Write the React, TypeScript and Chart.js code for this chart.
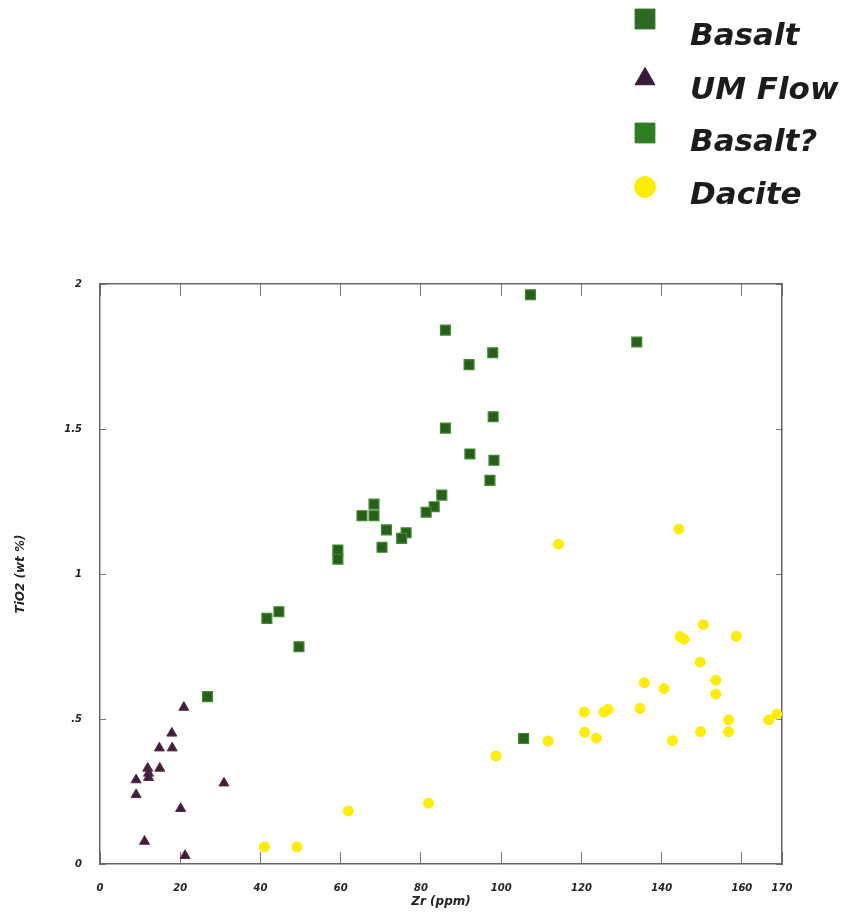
import { useEffect, useRef } from 'react';
import { Chart, registerables } from 'chart.js';
import { drawPoint } from 'chart.js/helpers';

Chart.register(...registerables);

// ---- data ----
const seriesNames = ['Basalt', 'UM Flow', 'Basalt?', 'Dacite'];

const basaltZr = [107.3, 133.8, 86.1, 97.9, 92.0, 98.0, 86.1, 92.2, 98.2, 97.2, 85.2, 83.3, 81.3, 68.3, 68.3, 65.3, 71.4, 76.3, 75.2, 70.3, 59.3, 59.3, 41.6, 44.6, 49.6];
const basaltTiO2 = [1.963, 1.80, 1.841, 1.763, 1.722, 1.542, 1.503, 1.414, 1.392, 1.323, 1.272, 1.232, 1.213, 1.241, 1.201, 1.201, 1.152, 1.142, 1.123, 1.092, 1.083, 1.051, 0.847, 0.870, 0.749];

const umFlowZr = [20.9, 17.9, 14.8, 18.0, 11.9, 14.9, 12.1, 12.1, 9.0, 9.0, 30.9, 20.1, 11.1, 21.2];
const umFlowTiO2 = [0.54, 0.451, 0.40, 0.40, 0.33, 0.33, 0.313, 0.298, 0.29, 0.239, 0.279, 0.191, 0.078, 0.029];

const basaltQZr = [26.8, 105.6];
const basaltQTiO2 = [0.577, 0.433];

const daciteZr = [144.3, 114.3, 150.4, 144.6, 145.6, 158.6, 149.6, 135.7, 140.6, 153.5, 153.5, 120.7, 125.6, 126.7, 134.6, 156.7, 166.7, 168.7, 120.8, 123.7, 149.7, 156.7, 142.7, 111.7, 98.7, 81.9, 61.9, 41.0, 49.1];
const daciteTiO2 = [1.155, 1.103, 0.825, 0.784, 0.775, 0.785, 0.696, 0.625, 0.605, 0.634, 0.586, 0.524, 0.524, 0.533, 0.536, 0.497, 0.497, 0.517, 0.454, 0.434, 0.456, 0.456, 0.425, 0.424, 0.372, 0.210, 0.183, 0.059, 0.059];

const xTickValues = [0, 20, 40, 60, 80, 100, 120, 140, 160, 170];
const xTickLabels = ['0', '20', '40', '60', '80', '100', '120', '140', '160', '170'];
const yTickValues = [0, 0.5, 1, 1.5, 2];
const yTickLabels = ['0', '.5', '1', '1.5', '2'];

const xTitle = 'Zr (ppm)';
const yTitle = 'TiO2 (wt %)';

const FAMILY = "'DejaVu Sans', 'Liberation Sans', sans-serif";

const toPoints = (xs: number[], ys: number[]) => xs.map((x, i) => ({ x, y: ys[i] }));

// legend drawn on the canvas above the plot, from the datasets
const topLegend = {
  id: 'topLegend',
  afterDraw(chart: any, _args: any, opts: any) {
    const ctx = chart.ctx as CanvasRenderingContext2D;
    ctx.save();
    chart.data.datasets.forEach((ds: any, i: number) => {
      ctx.fillStyle = opts.markerFill[i];
      ctx.strokeStyle = opts.markerStroke[i];
      ctx.lineWidth = 1;
      drawPoint(ctx, { pointStyle: ds.pointStyle, radius: opts.radius[i], rotation: 0, borderWidth: 1 } as any, opts.markerX, opts.markerY[i]);
      ctx.fillStyle = opts.textColor;
      ctx.font = `italic bold ${opts.fontSize}px ${FAMILY}`;
      ctx.textAlign = 'left';
      ctx.textBaseline = 'alphabetic';
      ctx.fillText(ds.label, opts.textX, opts.baselineY[i]);
    });
    ctx.restore();
  },
};

export default function App() {
  const ref = useRef<HTMLCanvasElement | null>(null);

  useEffect(() => {
    if (!ref.current) return;
    const tickFont = { family: FAMILY, size: 10, style: 'italic' as const, weight: 'bold' as const };
    const titleFont = { family: FAMILY, size: 12, style: 'italic' as const, weight: 'bold' as const };
    const frame = { display: true, color: '#666', width: 1.5 };

    const chart = new Chart(ref.current, {
      type: 'scatter',
      data: {
        datasets: [
          {
            label: seriesNames[0],
            data: toPoints(basaltZr, basaltTiO2),
            pointStyle: 'rect',
            pointRadius: 7,
            backgroundColor: '#285f1d',
            borderColor: '#3f8a2d',
            borderWidth: 1.2,
            clip: false,
          },
          {
            label: seriesNames[1],
            data: toPoints(umFlowZr, umFlowTiO2),
            pointStyle: 'triangle',
            pointRadius: 5.8,
            backgroundColor: '#3c1f3d',
            borderColor: '#5e2c48',
            borderWidth: 1,
            clip: false,
          },
          {
            label: seriesNames[2],
            data: toPoints(basaltQZr, basaltQTiO2),
            pointStyle: 'rect',
            pointRadius: 7,
            backgroundColor: '#285f1d',
            borderColor: '#3f8a2d',
            borderWidth: 1.2,
            clip: false,
          },
          {
            label: seriesNames[3],
            data: toPoints(daciteZr, daciteTiO2),
            pointStyle: 'circle',
            pointRadius: 5,
            backgroundColor: '#ffee00',
            borderColor: '#ffe800',
            borderWidth: 1,
            clip: false,
          },
        ],
      },
      options: {
        responsive: false,
        animation: false,
        devicePixelRatio: 1,
        layout: { padding: { top: 284, right: 63, bottom: 0, left: 0 } },
        plugins: {
          legend: { display: false },
          tooltip: { enabled: false },
          topLegend: {
            markerX: 645,
            markerY: [19, 79, 133, 187],
            radius: [14, 11.5, 14, 10.5],
            markerFill: ['#2b6a20', '#3a1a3b', '#2e7d23', '#ffee00'],
            markerStroke: ['#2b6a20', '#3a1a3b', '#2e7d23', '#ffee00'],
            textX: 690,
            baselineY: [45, 99, 151, 204],
            fontSize: 31,
            textColor: '#1c1c1c',
          },
        } as any,
        scales: {
          x: {
            type: 'linear',
            position: 'bottom',
            min: 0,
            max: 170,
            afterBuildTicks: (s: any) => { s.ticks = xTickValues.map((v) => ({ value: v })); },
            afterFit: (s: any) => { s.height = 56; },
            ticks: {
              font: tickFont,
              color: '#222',
              padding: 30,
              autoSkip: false,
              maxRotation: 0,
              minRotation: 0,
              callback: (_v: any, i: number) => xTickLabels[i],
            },
            grid: { drawOnChartArea: false, drawTicks: true, tickLength: -12, color: '#777', lineWidth: 1 },
            border: frame,
            title: { display: true, text: xTitle, font: titleFont, color: '#222', padding: { top: 0, bottom: 11 } },
          },
          x2: {
            type: 'linear',
            axis: 'x',
            position: 'top',
            min: 0,
            max: 170,
            afterBuildTicks: (s: any) => { s.ticks = xTickValues.map((v) => ({ value: v })); },
            afterFit: (s: any) => { s.height = 0; },
            ticks: { display: false },
            grid: { drawOnChartArea: false, drawTicks: true, tickLength: -12, color: '#777', lineWidth: 1 },
            border: frame,
          },
          y: {
            type: 'linear',
            position: 'left',
            min: 0,
            max: 2,
            afterBuildTicks: (s: any) => { s.ticks = yTickValues.map((v) => ({ value: v })); },
            afterFit: (s: any) => { s.width = 100; },
            ticks: {
              font: tickFont,
              color: '#222',
              padding: 24,
              callback: (_v: any, i: number) => yTickLabels[i],
            },
            grid: { drawOnChartArea: false, drawTicks: true, tickLength: -6, color: '#777', lineWidth: 1 },
            border: frame,
            title: { display: true, text: yTitle, font: titleFont, color: '#222', padding: { top: 14, bottom: 0 } },
          },
          y2: {
            type: 'linear',
            axis: 'y',
            position: 'right',
            min: 0,
            max: 2,
            afterBuildTicks: (s: any) => { s.ticks = yTickValues.map((v) => ({ value: v })); },
            afterFit: (s: any) => { s.width = 0; },
            ticks: { display: false },
            grid: { drawOnChartArea: false, drawTicks: true, tickLength: -6, color: '#777', lineWidth: 1 },
            border: frame,
          },
        } as any,
      },
      plugins: [topLegend],
    });

    return () => chart.destroy();
  }, []);

  return (
    <div style={{ position: 'absolute', left: 0, top: 0, width: 845, height: 920, background: '#fff' }}>
      <canvas ref={ref} width={845} height={920} style={{ display: 'block' }} />
    </div>
  );
}
